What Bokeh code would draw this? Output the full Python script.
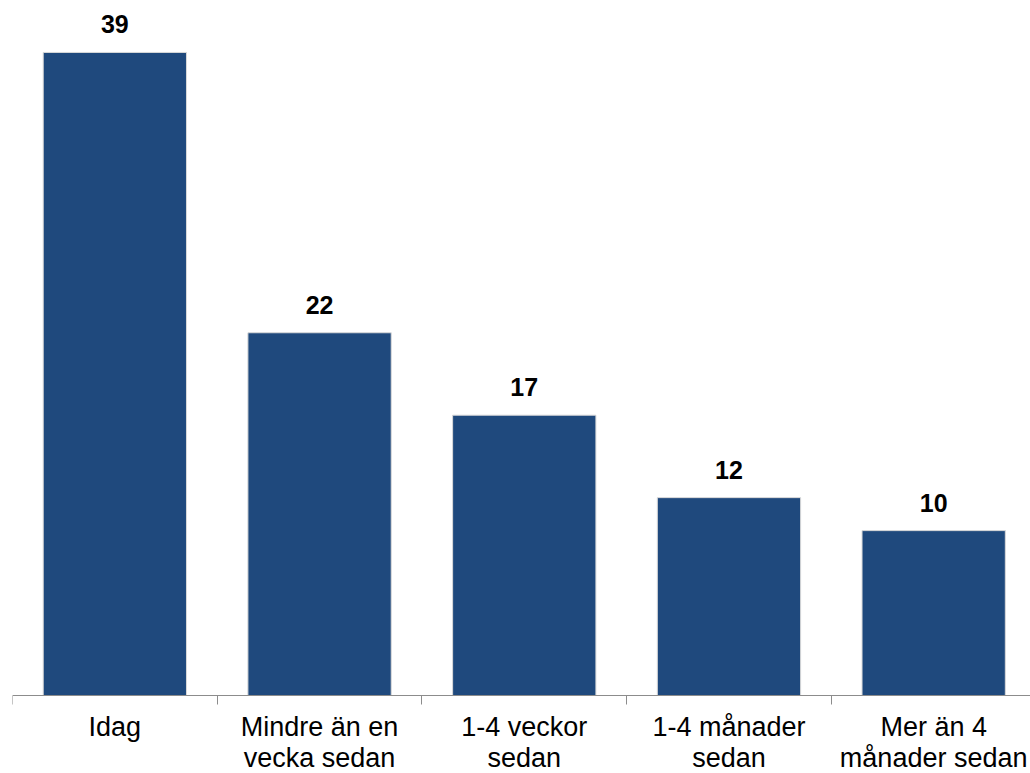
from bokeh.plotting import figure
from bokeh.models import Range1d, FixedTicker, ColumnDataSource
from bokeh.core.properties import value
from bokeh.embed import file_html
from bokeh.resources import INLINE

categories = ["Idag", "Mindre än en\nvecka sedan", "1-4 veckor\nsedan",
              "1-4 månader\nsedan", "Mer än 4\nmånader sedan"]
values = [39, 22, 17, 12, 10]

x = [i + 0.5 for i in range(len(categories))]
value_labels = [str(v) for v in values]
src = ColumnDataSource(dict(x=x, top=values, cat=categories, lbl=value_labels))

FONT = value("Liberation Sans")

p = figure(width=1030, height=773, output_backend="svg", toolbar_location=None,
           x_range=Range1d(0, 4.973), y_range=Range1d(-4.73, 42.15),
           min_border_left=12, min_border_right=0, min_border_top=0,
           min_border_bottom=0)
p.outline_line_color = None
p.grid.visible = False
p.yaxis.visible = False
p.background_fill_color = "white"

p.vbar(x="x", top="top", bottom=0, width=0.7, source=src,
       fill_color="#1F497D", line_color="#d9d9d9", line_width=1)

p.text(x="x", y="top", text="lbl", source=src, text_align="center",
       text_baseline="alphabetic", y_offset=-28, text_font=FONT,
       text_font_style="bold", text_font_size="25px", text_color="black")

p.text(x="x", y=0, text="cat", source=src, text_align="center",
       text_baseline="top", y_offset=16, text_font=FONT,
       text_font_size="27px", text_line_height=1.05, text_color="black")

ax = p.xaxis[0]
ax.fixed_location = 0
ax.ticker = FixedTicker(ticks=[], minor_ticks=list(range(6)))
ax.major_tick_out = 0
ax.major_tick_in = 0
ax.minor_tick_out = 9
ax.minor_tick_in = 0
ax.axis_line_color = "#8c8c8c"
ax.minor_tick_line_color = "#8c8c8c"
ax.major_label_text_font_size = "0px"
ax.major_label_standoff = 0

open("out.html", "w").write(file_html(p, INLINE))
